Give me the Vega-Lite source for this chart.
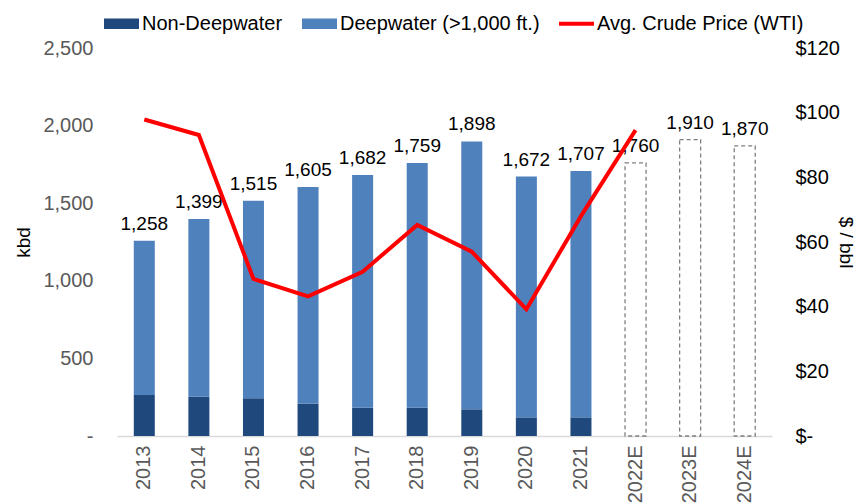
{
  "$schema": "https://vega.github.io/schema/vega-lite/v6.json",
  "width": 655,
  "height": 388,
  "autosize": {"type": "none"},
  "padding": {"left": 117, "top": 48, "right": 89, "bottom": 68},
  "background": "white",
  "config": {
    "view": {"stroke": null},
    "font": "Liberation Sans",
    "text": {"font": "Liberation Sans"}
  },
  "datasets": {
    "supply": [
      {"year": "2013", "series": "Non-Deepwater", "kbd": 264},
      {"year": "2013", "series": "Deepwater (>1,000 ft.)", "kbd": 994},
      {"year": "2014", "series": "Non-Deepwater", "kbd": 253},
      {"year": "2014", "series": "Deepwater (>1,000 ft.)", "kbd": 1146},
      {"year": "2015", "series": "Non-Deepwater", "kbd": 243},
      {"year": "2015", "series": "Deepwater (>1,000 ft.)", "kbd": 1272},
      {"year": "2016", "series": "Non-Deepwater", "kbd": 208},
      {"year": "2016", "series": "Deepwater (>1,000 ft.)", "kbd": 1397},
      {"year": "2017", "series": "Non-Deepwater", "kbd": 182},
      {"year": "2017", "series": "Deepwater (>1,000 ft.)", "kbd": 1500},
      {"year": "2018", "series": "Non-Deepwater", "kbd": 182},
      {"year": "2018", "series": "Deepwater (>1,000 ft.)", "kbd": 1577},
      {"year": "2019", "series": "Non-Deepwater", "kbd": 172},
      {"year": "2019", "series": "Deepwater (>1,000 ft.)", "kbd": 1726},
      {"year": "2020", "series": "Non-Deepwater", "kbd": 120},
      {"year": "2020", "series": "Deepwater (>1,000 ft.)", "kbd": 1552},
      {"year": "2021", "series": "Non-Deepwater", "kbd": 120},
      {"year": "2021", "series": "Deepwater (>1,000 ft.)", "kbd": 1587}
    ],
    "totals": [
      {"year": "2013", "total": 1258, "forecast": false},
      {"year": "2014", "total": 1399, "forecast": false},
      {"year": "2015", "total": 1515, "forecast": false},
      {"year": "2016", "total": 1605, "forecast": false},
      {"year": "2017", "total": 1682, "forecast": false},
      {"year": "2018", "total": 1759, "forecast": false},
      {"year": "2019", "total": 1898, "forecast": false},
      {"year": "2020", "total": 1672, "forecast": false},
      {"year": "2021", "total": 1707, "forecast": false},
      {"year": "2022E", "total": 1760, "forecast": true},
      {"year": "2023E", "total": 1910, "forecast": true},
      {"year": "2024E", "total": 1870, "forecast": true}
    ],
    "price": [
      {"year": "2013", "price": 97.9},
      {"year": "2014", "price": 93.1},
      {"year": "2015", "price": 48.6},
      {"year": "2016", "price": 43.2},
      {"year": "2017", "price": 50.8},
      {"year": "2018", "price": 65.3},
      {"year": "2019", "price": 57.0},
      {"year": "2020", "price": 39.2},
      {"year": "2021", "price": 68.0},
      {"year": "2022E", "price": 94.6}
    ]
  },
  "encoding": {
    "x": {
      "field": "year",
      "type": "ordinal",
      "scale": {
        "domain": ["2013", "2014", "2015", "2016", "2017", "2018", "2019", "2020", "2021", "2022E", "2023E", "2024E"],
        "paddingInner": 0.615,
        "paddingOuter": 0.3075
      },
      "axis": {
        "title": null,
        "labelAngle": 270,
        "labelAlign": "right",
        "labelBaseline": "middle",
        "labelFontSize": 20,
        "labelColor": "#595959",
        "labelPadding": 9,
        "ticks": false,
        "domainColor": "#d9d9d9",
        "domainWidth": 1.5
      }
    }
  },
  "layer": [
    {
      "layer": [
        {
          "data": {"name": "supply"},
          "mark": {"type": "bar"},
          "encoding": {
            "y": {
              "field": "kbd",
              "type": "quantitative",
              "stack": "zero",
              "scale": {"domain": [0, 2500], "nice": false},
              "axis": {
                "title": "kbd",
                "titleFontSize": 19,
                "titleFontWeight": "normal",
                "titleColor": "#000000",
                "titleAngle": -90,
                "titleX": -94,
                "titleY": 194,
                "titleAlign": "center",
                "titleBaseline": "middle",
                "values": [0, 500, 1000, 1500, 2000, 2500],
                "labelExpr": "datum.value == 0 ? '-' : format(datum.value, ',')",
                "labelFontSize": 20,
                "labelColor": "#595959",
                "labelPadding": 24,
                "ticks": false,
                "domain": false,
                "grid": false
              }
            },
            "color": {
              "field": "series",
              "type": "nominal",
              "scale": {
                "domain": ["Non-Deepwater", "Deepwater (>1,000 ft.)", "Avg. Crude Price (WTI)"],
                "range": ["#1f497d", "#4f81bd", "#ff0000"]
              },
              "legend": {
                "title": null,
                "orient": "none",
                "direction": "horizontal",
                "legendX": -13,
                "legendY": -42,
                "labelFontSize": 20,
                "labelColor": "#000000",
                "labelLimit": 0,
                "labelOffset": 3,
                "columnPadding": 19,
                "symbolSize": 1225,
                "symbolOpacity": 1,
                "symbolStrokeWidth": 0,
                "encode": {
                  "symbols": {
                    "update": {
                      "shape": {"signal": "datum.value == 'Avg. Crude Price (WTI)' ? 'M-1,-0.12L1,-0.12L1,0.12L-1,0.12Z' : 'M-1,-0.3L1,-0.3L1,0.3L-1,0.3Z'"}
                    }
                  }
                }
              }
            },
            "order": {"field": "series", "sort": "descending"}
          }
        },
        {
          "data": {"name": "totals"},
          "transform": [{"filter": "datum.forecast"}],
          "mark": {"type": "bar", "fill": "white", "stroke": "#7f7f7f", "strokeDash": [4, 3], "strokeWidth": 1.3},
          "encoding": {
            "y": {"field": "total", "type": "quantitative", "scale": {"domain": [0, 2500], "nice": false}}
          }
        },
        {
          "data": {"name": "totals"},
          "mark": {"type": "text", "fontSize": 19, "color": "#000000", "baseline": "alphabetic", "dy": -11},
          "encoding": {
            "y": {"field": "total", "type": "quantitative", "scale": {"domain": [0, 2500], "nice": false}},
            "text": {"field": "total", "type": "quantitative", "format": ","}
          }
        }
      ]
    },
    {
      "data": {"name": "price"},
      "mark": {"type": "line", "color": "#ff0000", "strokeWidth": 4},
      "encoding": {
        "y": {
          "field": "price",
          "type": "quantitative",
          "scale": {"domain": [0, 120], "nice": false},
          "axis": {
            "orient": "right",
            "title": "$ / bbl",
            "titleFontSize": 19,
            "titleFontWeight": "normal",
            "titleColor": "#000000",
            "titleAngle": 90,
            "titleX": 73,
            "titleY": 194,
            "titleAlign": "center",
            "titleBaseline": "middle",
            "values": [0, 20, 40, 60, 80, 100, 120],
            "labelExpr": "datum.value == 0 ? '$-' : '$' + datum.value",
            "labelFontSize": 20,
            "labelColor": "#000000",
            "labelPadding": 23,
            "ticks": false,
            "domain": false,
            "grid": false
          }
        }
      }
    }
  ],
  "resolve": {"scale": {"y": "independent"}}
}
